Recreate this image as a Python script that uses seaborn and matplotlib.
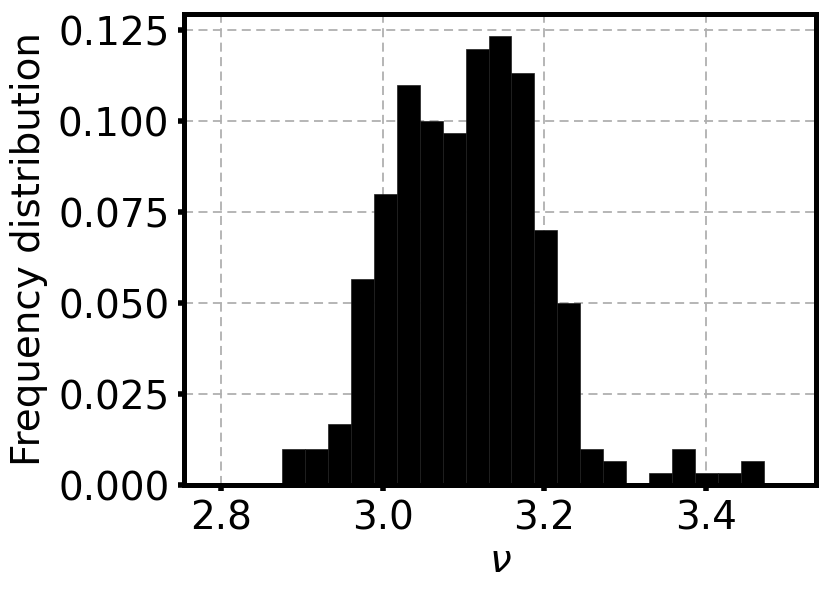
import numpy as np
import pandas as pd
import matplotlib
matplotlib.use("Agg")
import matplotlib.pyplot as plt
import seaborn as sns

# bin edges of the histogram (25 bins) and counts per bin (300 samples)
bin_lo, bin_hi, n_bins = 2.79, 3.50, 25
counts = [0, 0, 0, 3, 3, 5, 17, 24, 33, 30, 29, 36, 37,
          34, 21, 15, 3, 2, 0, 1, 3, 1, 1, 2, 0]
x_ticks = [2.8, 3.0, 3.2, 3.4]
y_ticks = [0.0, 0.025, 0.05, 0.075, 0.1, 0.125]

edges = np.linspace(bin_lo, bin_hi, n_bins + 1)
df = pd.DataFrame({"nu": (edges[:-1] + edges[1:]) / 2, "n": counts})

plt.rcParams["font.family"] = ["DejaVu Sans"]

fig = plt.figure(figsize=(8.3, 5.94), dpi=100)
ax = fig.add_axes([0.2217, 0.1835, 0.7614, 0.7929])

sns.histplot(data=df, x="nu", weights="n", bins=list(edges), stat="probability",
             color="black", edgecolor="0.12", linewidth=0.5, alpha=1.0, ax=ax)

ax.set_axisbelow(True)
ax.grid(True, linestyle="--", color="#b0b0b0", linewidth=1.3, dashes=(5, 3))
ax.set_xticks(x_ticks)
ax.set_yticks(y_ticks)
ax.set_xticklabels([f"{t:.1f}" for t in x_ticks])
ax.set_yticklabels([f"{t:.3f}" for t in y_ticks])
ax.tick_params(labelsize=28, length=4.5, width=4, pad=6, direction="out")
for s in ax.spines.values():
    s.set_linewidth(3.6)

ax.set_xlabel(r"$\nu$", fontsize=28, labelpad=3)
ax.set_ylabel("Frequency distribution", fontsize=28, labelpad=7)

fig.savefig("out.png", dpi=100)
